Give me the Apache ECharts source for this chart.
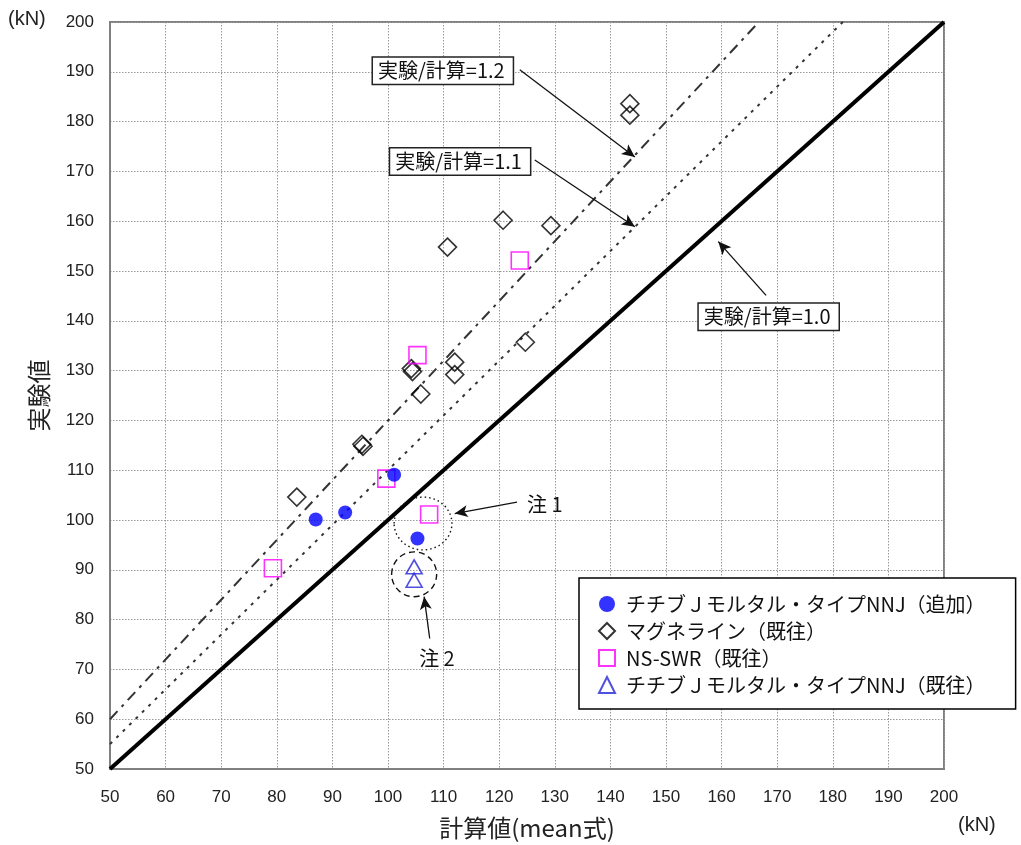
<!DOCTYPE html>
<html><head><meta charset="utf-8">
<script src="https://cdn.jsdelivr.net/npm/echarts@6/dist/echarts.min.js"></script>
<style>html,body{margin:0;padding:0;background:#fff}#c{width:1021px;height:845px}</style>
</head><body><div id="c"></div>
<script>
// ---- data ----
const seriesNames = ['チチブＪモルタル・タイプNNJ（追加）', 'マグネライン（既往）', 'NS-SWR（既往）', 'チチブＪモルタル・タイプNNJ（既往）'];
const addedNNJ = [[87.0,100.1],[92.3,101.5],[101.1,109.1],[105.3,96.3]];
const magneLine = [[83.6,104.6],[95.3,115.2],[95.5,114.8],[104.2,130.4],[104.4,129.8],[105.9,125.3],[112.0,131.7],[112.0,129.2],[110.7,154.8],[120.7,160.2],[129.3,159.1],[124.7,135.7],[143.5,183.6],[143.5,181.3]];
const nsSwr = [[79.3,90.3],[99.7,108.3],[105.3,133.1],[107.4,101.1],[123.7,152.1]];
const pastNNJ = [[104.7,90.6],[104.7,87.9]];
const line10 = [[50,50],[200,200]];
const line11 = [[50,55],[181.8,200]];
const line12 = [[50,60],[166.7,200]];
const axisMin = 50, axisMax = 200, axisStep = 10;
const xTitle = '計算値(mean式)';
const yTitle = '実験値';
const unitText = '(kN)';
// annotation anchors (data coordinates)
const ratioNotes = [
  {text:'実験/計算=1.2', box:[97.3,192.8], from:[123.7,190.4], to:[144.4,172.9]},
  {text:'実験/計算=1.1', box:[100.4,174.6], from:[126.4,172.3], to:[144.4,158.9]},
  {text:'実験/計算=1.0', box:[155.9,143.4], from:[168.0,145.1], to:[159.4,155.9]}
];
const noteMarks = [
  {text:'注 1', label:[128.2,103.2], center:[106.3,99.3], r:[5.2,5.3], dash:[1.5,3], from:[123.2,103.6], to:[112.0,101.3]},
  {text:'注 2', label:[108.8,72.2], center:[104.7,89.1], r:[4.05,4.5], dash:[6,4], from:[107.5,76.2], to:[106.5,84.6]}
];

const CJK = '"Noto Sans CJK JP", "Noto Sans", sans-serif';
const NUM = '"Liberation Sans", Arial, sans-serif';

const chart = echarts.init(document.getElementById('c'));

const arrowData = ratioNotes.concat(noteMarks).map(a => [
  {coord: a.from, symbol: 'none'},
  {coord: a.to, symbol: 'arrow'}
]);

const axisCommon = {
  type: 'value', min: axisMin, max: axisMax, interval: axisStep,
  axisLine: {show: true, onZero: false, lineStyle: {color: '#808080', width: 2}},
  axisTick: {show: false},
  splitLine: {show: true, lineStyle: {color: '#999', type: [1.5, 1.5], width: 1}},
  axisLabel: {color: '#222', fontFamily: NUM, fontSize: 17},
  nameLocation: 'middle',
  nameTextStyle: {fontFamily: CJK, fontSize: 24, color: '#222'}
};

chart.setOption({
  animation: false,
  backgroundColor: '#fff',
  grid: {left: 110, right: 77, top: 22, bottom: 72, show: true, borderColor: '#808080', borderWidth: 2, backgroundColor: 'transparent'},
  xAxis: Object.assign({}, axisCommon, {name: xTitle, nameGap: 47, axisLabel: Object.assign({}, axisCommon.axisLabel, {margin: 20})}),
  yAxis: Object.assign({}, axisCommon, {name: yTitle, nameGap: 59, nameRotate: 90, axisLabel: Object.assign({}, axisCommon.axisLabel, {margin: 16})}),
  legend: {
    data: seriesNames,
    orient: 'vertical', left: 579, top: 578,
    padding: [16, 30, 14, 19],
    itemWidth: 16, itemHeight: 16, itemGap: 7,
    borderColor: '#000', borderWidth: 1.5, backgroundColor: '#fff',
    textStyle: {fontFamily: CJK, fontSize: 20, color: '#111', padding: [0, 0, 0, 6]},
    selectedMode: false
  },
  series: [
    {type: 'line', data: line10, symbol: 'none', silent: true, z: 1,
     lineStyle: {color: '#000', width: 4}},
    {type: 'line', data: line11, symbol: 'none', silent: true, z: 1,
     lineStyle: {color: '#333', width: 2, type: [3, 6]}},
    {type: 'line', data: line12, symbol: 'none', silent: true, z: 1,
     lineStyle: {color: '#333', width: 2, type: [11, 6, 3, 6]},
     markLine: {silent: true, symbolSize: [9, 13], animation: false,
       lineStyle: {color: '#111', width: 1.3, type: 'solid'}, label: {show: false},
       data: arrowData}},
    {name: seriesNames[0], type: 'scatter', data: addedNNJ, symbol: 'circle', symbolSize: 14, z: 5,
     itemStyle: {color: '#0000FF'}},
    {name: seriesNames[1], type: 'scatter', data: magneLine, symbol: 'diamond', symbolSize: [18, 18], z: 4,
     itemStyle: {color: 'rgba(255,255,255,0)', borderColor: '#000', borderWidth: 1.6}},
    {name: seriesNames[2], type: 'scatter', data: nsSwr, symbol: 'rect', symbolSize: 17, z: 4,
     itemStyle: {color: 'rgba(255,255,255,0)', borderColor: '#FF00FF', borderWidth: 1.6}},
    {name: seriesNames[3], type: 'scatter', data: pastNNJ, symbol: 'triangle', symbolSize: [16, 14], z: 4,
     itemStyle: {color: 'rgba(255,255,255,0)', borderColor: '#2424D8', borderWidth: 1.6}}
  ]
});

function px(p) { return chart.convertToPixel({gridIndex: 0}, p); }
const graphics = [];
ratioNotes.forEach(a => {
  const p = px(a.box);
  graphics.push({type: 'text', x: p[0], y: p[1], z: 20,
    style: {text: a.text, font: '20px ' + CJK, fill: '#111',
      backgroundColor: '#fff', borderColor: '#222', borderWidth: 1.5, padding: [3, 8, 3, 5]}});
});
noteMarks.forEach(n => {
  const c = px(n.center);
  const e = px([n.center[0] + n.r[0], n.center[1] + n.r[1]]);
  graphics.push({type: 'ellipse', z: 20, shape: {cx: c[0], cy: c[1], rx: Math.abs(e[0] - c[0]), ry: Math.abs(e[1] - c[1])},
    style: {fill: 'none', stroke: '#111', lineWidth: 1.4, lineDash: n.dash}});
  const l = px(n.label);
  graphics.push({type: 'text', x: l[0], y: l[1], z: 20,
    style: {text: n.text, font: '20px ' + CJK, fill: '#111', align: 'center', verticalAlign: 'middle'}});
});
graphics.push({type: 'text', left: 8, top: 9, style: {text: unitText, font: '20px ' + NUM, fill: '#222'}});
graphics.push({type: 'text', left: 958, top: 815, style: {text: unitText, font: '20px ' + NUM, fill: '#222'}});
chart.setOption({graphic: graphics});
</script>
</body></html>
